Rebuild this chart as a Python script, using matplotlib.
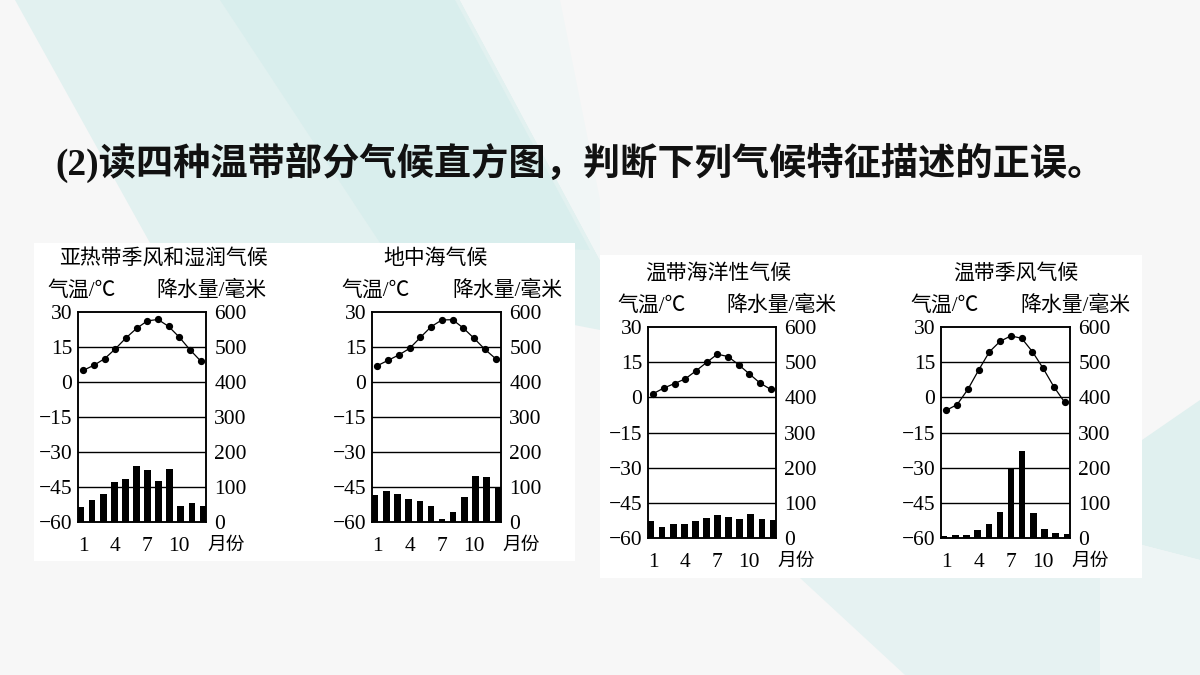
import numpy as np
import matplotlib.pyplot as plt
from matplotlib.patches import Polygon, Rectangle

plt.rcParams['font.family'] = ['Liberation Serif', 'Noto Sans CJK SC', 'DejaVu Sans']

# data
months = np.arange(1, 13)
titles = ['亚热带季风和湿润气候', '地中海气候', '温带海洋性气候', '温带季风气候']
temp_subtrop = [5, 7.2, 10, 14.2, 18.9, 23, 26.2, 26.8, 23.8, 19.2, 13.8, 9]
rain_subtrop = [43, 62, 80, 114, 124, 160, 150, 118, 152, 45, 55, 45]
temp_medit = [7, 9.3, 11.6, 14.4, 19.1, 23.7, 26.6, 26.7, 23.1, 18.7, 14, 10]
rain_medit = [77, 89, 81, 65, 59, 45, 10, 29, 71, 131, 128, 99]
temp_ocean = [1.6, 4, 5.9, 7.9, 11.3, 14.9, 18.4, 17.4, 13.9, 10, 6.1, 3.4]
rain_ocean = [48, 31, 40, 39, 48, 57, 64, 60, 55, 69, 55, 50]
temp_monsoon = [-5.5, -3.1, 3.4, 11.6, 19.4, 23.9, 26.2, 25.2, 19.5, 12.4, 4.5, -2.1]
rain_monsoon = [5, 8, 8, 24, 40, 74, 198, 248, 70, 25, 14, 11]
temps = [temp_subtrop, temp_medit, temp_ocean, temp_monsoon]
rains = [rain_subtrop, rain_medit, rain_ocean, rain_monsoon]
temp_ticks = [-60, -45, -30, -15, 0, 15, 30]
rain_ticks = [0, 100, 200, 300, 400, 500, 600]
month_ticks = [1, 4, 7, 10]

W, H = 1200, 675
fig = plt.figure(figsize=(12, 6.75), dpi=100)
fig.patch.set_facecolor('#f7f7f7')

# background decoration, pixel coords
bg = fig.add_axes([0, 0, 1, 1])
bg.set_xlim(0, W)
bg.set_ylim(H, 0)
bg.axis('off')
teal = '#e2f1f0'
bg.add_patch(Polygon([(15, 0), (460, 0), (600, 260), (600, 330), (150, 243)], color=teal, lw=0))
bg.add_patch(Polygon([(220, 0), (455, 0), (590, 250), (380, 243)], color='#d9eeed', lw=0))
bg.add_patch(Polygon([(460, 0), (560, 0), (600, 200), (600, 260)], color='#f1f6f6', lw=0))
bg.add_patch(Polygon([(800, 578), (1100, 578), (1100, 675), (905, 675)], color='#e6f2f2', lw=0))
bg.add_patch(Polygon([(1142, 440), (1200, 400), (1200, 560), (1142, 545)], color='#e0f0ef', lw=0))
bg.add_patch(Polygon([(1100, 578), (1142, 545), (1200, 560), (1200, 675), (1100, 675)], color='#eef5f5', lw=0))
bg.add_patch(Rectangle((34, 243), 541, 318, color='white', lw=0))
bg.add_patch(Rectangle((600, 255), 542, 323, color='white', lw=0))

fig.text(55 / W, 1 - 163 / H, '(2)读四种温带部分气候直方图，判断下列气候特征描述的正误。',
         fontsize=26.8, fontweight='bold', color='#111111', ha='left', va='center')

# axes boxes in pixels: left, top, right, bottom
boxes = [(78, 312, 206, 522), (372, 312, 501, 522), (648, 327, 776, 538), (941, 327, 1070, 538)]
title_x = [163, 436, 718, 1016]

bar_w = 0.6
bar_x = 0.5 + bar_w / 2 + (months - 1) * (12 - bar_w) / 11

for i in range(4):
    l, t, r, b = boxes[i]
    ax = fig.add_axes([l / W, 1 - b / H, (r - l) / W, (b - t) / H])
    ax2 = ax.twinx()
    ax.set_zorder(ax2.get_zorder() + 1)
    ax.patch.set_visible(False)
    ax2.patch.set_facecolor('white')

    ax2.bar(bar_x, rains[i], width=bar_w, color='black', zorder=3)
    ax2.set_ylim(0, 600)
    ax2.set_yticks(rain_ticks)

    ax.plot(months, temps[i], color='black', lw=0.9, marker='o', ms=4.2, zorder=4)
    ax.set_ylim(-60, 30)
    ax.set_xlim(0.5, 12.5)
    ax.set_yticks(temp_ticks)
    ax.set_xticks(month_ticks)
    for yv in temp_ticks[1:-1]:
        ax.axhline(yv, color='black', lw=1.0, zorder=2)

    ax.tick_params(axis='y', length=0, pad=4, labelsize=15.5)
    ax.tick_params(axis='x', length=0, pad=11, labelsize=15.5)
    ax2.tick_params(axis='y', length=0, pad=6, labelsize=15.5)
    for a in (ax, ax2):
        for s in a.spines.values():
            s.set_linewidth(1.1)

    ax.annotate('月份', xy=(1, 0), xycoords='axes fraction', xytext=(1, -11),
                textcoords='offset points', ha='left', va='top', fontsize=13.5)

    top_px = t - 53
    fig.text(title_x[i] / W, 1 - top_px / H, titles[i], fontsize=15, ha='center', va='center')
    fig.text((l - 31) / W, 1 - (t - 21) / H, '气温/℃', fontsize=15, ha='left', va='center')
    fig.text((r + 61) / W, 1 - (t - 21) / H, '降水量/毫米', fontsize=15, ha='right', va='center')

fig.savefig('out.png', dpi=100, facecolor=fig.get_facecolor())
